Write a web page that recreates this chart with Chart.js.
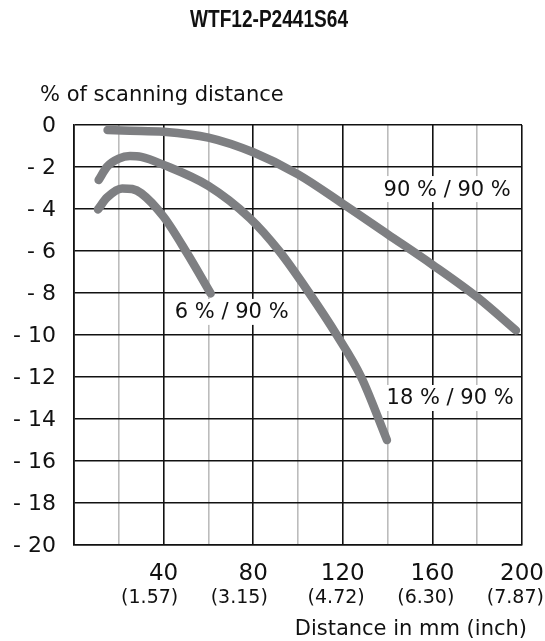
<!DOCTYPE html>
<html>
<head>
<meta charset="utf-8">
<script src="https://cdn.jsdelivr.net/npm/chart.js@4/dist/chart.umd.min.js"></script>
<style>
  html, body { margin: 0; padding: 0; background: #fff; }
  #box { width: 545px; height: 641px; }
</style>
</head>
<body>
<div id="box"><canvas id="range-chart" width="545" height="641"></canvas></div>
<script>
// values
const chartTitle = 'WTF12-P2441S64';
const yTitle = '% of scanning distance';
const xTitle = 'Distance in mm (inch)';

const seriesNames = ['90 % / 90 %', '18 % / 90 %', '6 % / 90 %'];

const dist90 = [15, 25, 40, 60, 80, 100, 120, 140, 160, 180, 197.3];
const pct90 = [-0.24, -0.27, -0.32, -0.6, -1.3, -2.35, -3.75, -5.2, -6.65, -8.2, -9.78];

const dist18 = [11, 14.8, 20, 25, 30, 40, 60, 78.5, 91.6, 105, 117.3, 128.2, 139.7];
const pct18 = [-2.62, -1.98, -1.6, -1.48, -1.52, -1.9, -2.9, -4.44, -6, -8, -10, -12, -15];

const dist6 = [10.7, 14.8, 21.5, 26, 30, 40, 50.5, 61];
const pct6 = [-4.02, -3.45, -3.02, -3.05, -3.25, -4.37, -6.11, -8.02];

// where each curve label sits (data units)
const labelX = [166.6, 167.9, 70.4];
const labelY = [-3.05, -13.0, -8.9];

const yTicks = [0, -2, -4, -6, -8, -10, -12, -14, -16, -18, -20];
const xTicksMm = [40, 80, 120, 160, 200];
const xTicksInch = ['(1.57)', '(3.15)', '(4.72)', '(6.30)', '(7.87)'];

const curveColor = '#7e7f82';
const textColor = '#111';
const font = '"DejaVu Sans", sans-serif';

function toPoints(xs, ys){
    return xs.map((x, i) => ({x: x, y: ys[i]}));
}

function curve(label, xs, ys){
    return {
        label: label,
        data: toPoints(xs, ys),
        borderColor: curveColor,
        borderWidth: 8.5,
        borderCapStyle: 'round',
        borderJoinStyle: 'round',
        pointRadius: 0,
        cubicInterpolationMode: 'monotone',
        fill: false,
        clip: false
    };
}

const textPlugin = {
    id: 'textPlugin',
    afterDatasetsDraw(chart){
        const ctx = chart.ctx;
        const xs = chart.scales.x;
        const ys = chart.scales.y;
        const area = chart.chartArea;
        ctx.save();
        ctx.fillStyle = textColor;

        // title, bold and narrow
        ctx.save();
        ctx.font = 'bold 23px "Liberation Sans", sans-serif';
        ctx.textAlign = 'center';
        ctx.textBaseline = 'alphabetic';
        ctx.translate(269, 27);
        ctx.scale(0.83, 1);
        ctx.fillText(chartTitle, 0, 0);
        ctx.restore();

        // y axis title
        ctx.font = '21px ' + font;
        ctx.textAlign = 'left';
        ctx.textBaseline = 'alphabetic';
        ctx.fillText(yTitle, 40, 101);

        // y ticks
        ctx.font = '22px ' + font;
        ctx.textAlign = 'right';
        ctx.textBaseline = 'middle';
        yTicks.forEach(v => {
            let t = v === 0 ? '0' : '- ' + (-v);
            ctx.fillText(t, area.left - 18, ys.getPixelForValue(v) + 1);
        });

        // x ticks: mm centred, inch right-aligned under it
        ctx.textBaseline = 'alphabetic';
        xTicksMm.forEach((v, i) => {
            let px = xs.getPixelForValue(v);
            ctx.font = '23px ' + font;
            let w = ctx.measureText(String(v)).width;
            ctx.textAlign = 'center';
            ctx.fillText(String(v), px, 580);
            ctx.font = '19px ' + font;
            ctx.textAlign = 'right';
            ctx.fillText(xTicksInch[i], px + w / 2, 603);
        });

        // x axis title
        ctx.font = '21px ' + font;
        ctx.textAlign = 'right';
        ctx.fillText(xTitle, 527, 635);

        // curve labels on white boxes
        ctx.font = '21px ' + font;
        ctx.textAlign = 'center';
        ctx.textBaseline = 'middle';
        seriesNames.forEach((name, i) => {
            let px = xs.getPixelForValue(labelX[i]);
            let py = ys.getPixelForValue(labelY[i]);
            let w = ctx.measureText(name).width;
            ctx.fillStyle = '#fff';
            ctx.fillRect(px - w / 2 - 3, py - 13, w + 6, 26);
            ctx.fillStyle = textColor;
            ctx.fillText(name, px, py + 1);
        });

        ctx.restore();
    }
};

let chart_html = document.getElementById('range-chart').getContext('2d');

let rangeChart = new Chart(chart_html, {
    type: 'line',
    data: {
        datasets: [
            curve(seriesNames[0], dist90, pct90),
            curve(seriesNames[1], dist18, pct18),
            curve(seriesNames[2], dist6, pct6)
        ]
    },
    options: {
        responsive: false,
        animation: false,
        layout: { padding: { left: 74, top: 125, right: 23, bottom: 96 } },
        plugins: {
            legend: { display: false },
            tooltip: { enabled: false },
            title: { display: false }
        },
        scales: {
            x: {
                type: 'linear',
                min: 0,
                max: 200,
                ticks: { stepSize: 20, display: false },
                grid: {
                    drawTicks: false,
                    lineWidth: 1.6,
                    color: c => (c.tick && c.tick.value % 40 === 0) ? '#111' : '#bcbcbc'
                },
                border: { display: true, color: '#111', width: 1.6 }
            },
            y: {
                min: -20,
                max: 0,
                ticks: { stepSize: 2, display: false },
                grid: { drawTicks: false, lineWidth: 1.6, color: '#111' },
                border: { display: true, color: '#111', width: 1.6 }
            }
        }
    },
    plugins: [textPlugin]
});
</script>
</body>
</html>
